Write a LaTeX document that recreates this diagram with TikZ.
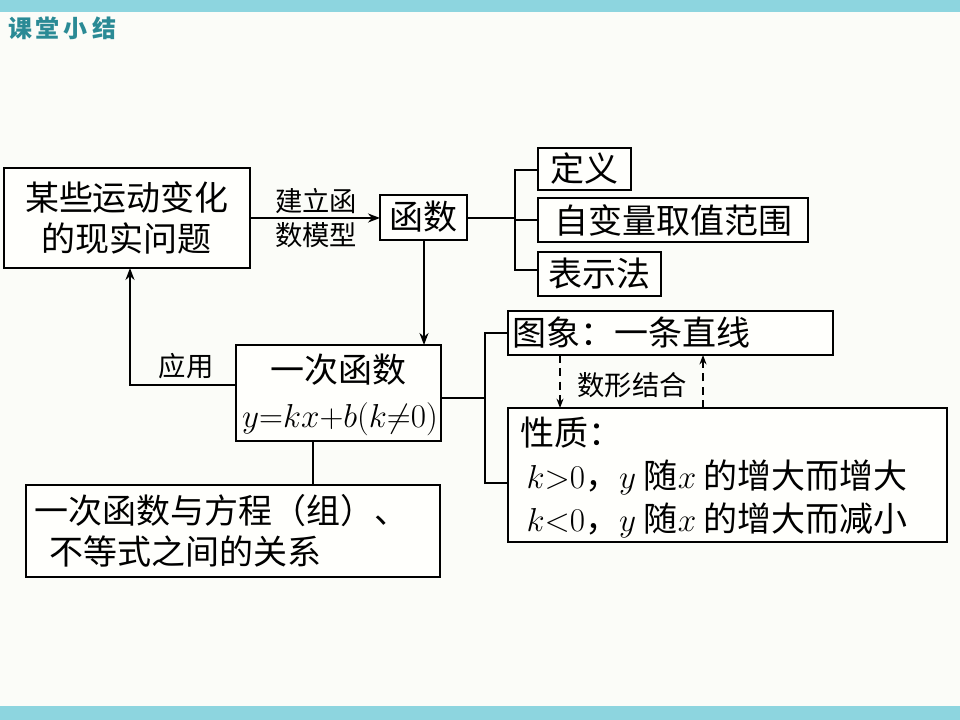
\documentclass[tikz,border=0pt]{standalone}
\usepackage{fontspec}
\newfontfamily\cjk{Noto Sans CJK SC}
\usetikzlibrary{arrows.meta}
\begin{document}
\begin{tikzpicture}[x=0.75pt,y=-0.75pt,
  bx/.style={draw=black,line width=2.2pt,fill=white!60!yellow!3,inner sep=0pt},
  ln/.style={line width=2.2pt},
  big/.style={font=\cjk\fontsize{25.5}{31}\selectfont},
  sm/.style={font=\cjk\fontsize{20.5}{25}\selectfont}]
\fill[color={rgb,255:red,251;green,252;blue,248}] (0,0) rectangle (960,720);
\useasboundingbox (0,0) rectangle (960,720);
\fill[color={rgb,255:red,141;green,213;blue,223}] (0,0) rectangle (960,12);
\fill[color={rgb,255:red,141;green,213;blue,223}] (0,706) rectangle (960,720);
\node[font=\cjk\bfseries\fontsize{18}{20}\selectfont,text={rgb,255:red,42;green,138;blue,149}] (title) at (62,28) {课\,堂\,小\,结};
% boxes
\draw[bx] (4,168) rectangle (250,268); \node[big,align=center] (A) at (127,218) {某些运动变化\\的现实问题};
\coordinate (Abot) at (130,268);
\node[sm,align=left] (lab1) at (316,218) {建立函\\数模型};
\draw[bx] (380,195) rectangle (467,240); \node[big] (B) at (423,217) {函数};
\draw[bx] (538,148) rectangle (631,190); \node[big] (b1) at (584,169) {定义};
\draw[bx] (538,198) rectangle (808,242); \node[big] (b2) at (673,220) {自变量取值范围};
\draw[bx] (538,252) rectangle (661,296); \node[big] (b3) at (599,274) {表示法};
\draw[bx] (236,345) rectangle (441,441);
\node[big] (C1) at (338,370) {一次函数};
\node[font=\fontsize{24}{29}\selectfont] (C2) at (340,419) {$y{=}kx{+}b(k{\neq}0)$};
\draw[bx] (508,311) rectangle (833,355); \node[big,anchor=west] (c1) at (508,333) {图象：一条直线};
\draw[bx] (508,408) rectangle (947,542);
\node[big,anchor=west] (p0) at (516,433) {性质：};
\node[big,anchor=west] (p1) at (522,477) {$k{>}0$，$y$ 随$x$ 的增大而增大};
\node[big,anchor=west] (p2) at (522,520) {$k{<}0$，$y$ 随$x$ 的增大而减小};
\draw[bx] (26,485) rectangle (440,577);
\node[big,align=left,anchor=west] (D) at (30,531) {一次函数与方程（组）、\\\ \ 不等式之间的关系};
% connectors
\draw[ln,-{Stealth[length=9pt]}] (250,218) -- (380,218);
\draw[ln] (467,218) -- (515,218);
\draw[ln] (538,170) -- (515,170) -- (515,270) -- (538,270);
\draw[ln] (515,220) -- (538,220);
\draw[ln,-{Stealth[length=9pt]}] (424,240) -- (424,345);
\draw[ln,-{Stealth[length=9pt]}] (236,385) -- (130,385) -- (Abot);
\node[sm] (lab2) at (186,366) {应用};
\draw[ln] (441,398) -- (485,398);
\draw[ln] (508,333) -- (485,333) -- (485,483) -- (508,483);
\draw[ln] (313,441) -- (313,485);
\draw[line width=1.8pt,dash pattern=on 6pt off 4pt,-{Stealth[length=7pt]}] (560,355) -- (560,408);
\draw[line width=1.8pt,dash pattern=on 6pt off 4pt,-{Stealth[length=7pt]}] (703,408) -- (703,355);
\node[sm] (lab3) at (632,385) {数形结合};
\end{tikzpicture}
\end{document}
